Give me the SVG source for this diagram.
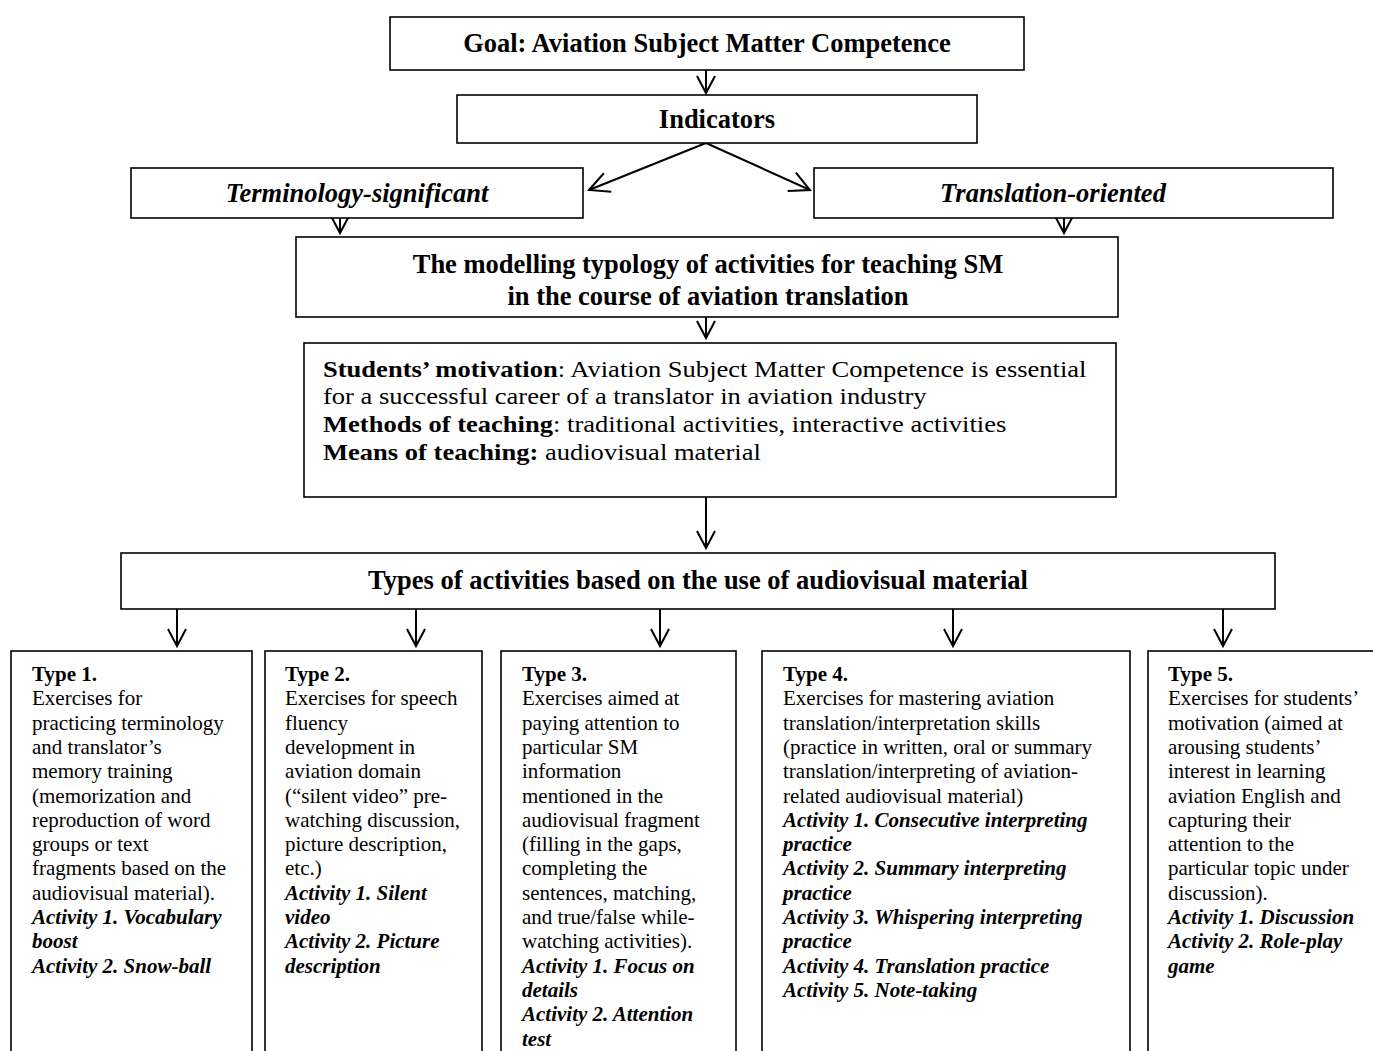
<svg xmlns="http://www.w3.org/2000/svg" width="1373" height="1051" viewBox="0 0 1373 1051">
<style>
.box{fill:#fff;stroke:#000;stroke-width:1.6}
.h{font-family:"Liberation Serif","Times New Roman",serif;font-weight:bold;font-size:26.5px;fill:#000}
.hi{font-family:"Liberation Serif","Times New Roman",serif;font-weight:bold;font-style:italic;font-size:26.5px;fill:#000}
.m{font-family:"Liberation Serif","Times New Roman",serif;font-size:23.5px;fill:#000}
.t{font-family:"Liberation Serif","Times New Roman",serif;font-size:21px;fill:#000}
.b{font-weight:bold}
.a{font-weight:bold;font-style:italic}
.c{fill:none;stroke:#000;stroke-width:2}
</style>
<defs>
<marker id="v" viewBox="-22 -12 24 24" refX="0" refY="0" markerWidth="24" markerHeight="24" markerUnits="userSpaceOnUse" orient="auto" overflow="visible">
<path d="M -17 -9 L 0 0 L -17 9" fill="none" stroke="#000" stroke-width="2"/>
</marker>
<marker id="vd" viewBox="-24 -14 26 28" refX="0" refY="0" markerWidth="26" markerHeight="28" markerUnits="userSpaceOnUse" orient="auto" overflow="visible">
<path d="M -20 -10 L 0 0 L -20 10" fill="none" stroke="#000" stroke-width="2"/>
</marker>
</defs>
<rect width="1373" height="1051" fill="#fff"/>

<g id="connectors">
<line class="c" x1="706" y1="70" x2="706" y2="93" marker-end="url(#v)"/>
<line class="c" x1="706" y1="143" x2="589" y2="190" marker-end="url(#vd)"/>
<line class="c" x1="706" y1="143" x2="810" y2="190" marker-end="url(#vd)"/>
<line class="c" x1="340" y1="218" x2="340" y2="233" marker-end="url(#v)"/>
<line class="c" x1="1064" y1="218" x2="1064" y2="233" marker-end="url(#v)"/>
<line class="c" x1="706" y1="317" x2="706" y2="338" marker-end="url(#v)"/>
<line class="c" x1="706" y1="497" x2="706" y2="548" marker-end="url(#v)"/>
<line class="c" x1="177" y1="609" x2="177" y2="646" marker-end="url(#v)"/>
<line class="c" x1="416" y1="609" x2="416" y2="646" marker-end="url(#v)"/>
<line class="c" x1="660" y1="609" x2="660" y2="646" marker-end="url(#v)"/>
<line class="c" x1="953" y1="609" x2="953" y2="646" marker-end="url(#v)"/>
<line class="c" x1="1223" y1="609" x2="1223" y2="646" marker-end="url(#v)"/>
</g>

<g id="goal">
<rect class="box" x="390" y="17" width="634" height="53"/>
<text class="h" x="707" y="52" text-anchor="middle">Goal: Aviation Subject Matter Competence</text>
</g>

<g id="indicators">
<rect class="box" x="457" y="95" width="520" height="48"/>
<text class="h" x="717" y="128" text-anchor="middle">Indicators</text>
</g>

<g id="terminology">
<rect class="box" x="131" y="168" width="452" height="50"/>
<text class="hi" x="357" y="202" text-anchor="middle">Terminology-significant</text>
</g>

<g id="translation">
<rect class="box" x="814" y="168" width="519" height="50"/>
<text class="hi" x="1053" y="202" text-anchor="middle">Translation-oriented</text>
</g>

<g id="modelling">
<rect class="box" x="296" y="237" width="822" height="80"/>
<text class="h" x="708" y="273" text-anchor="middle">The modelling typology of activities for teaching SM</text>
<text class="h" x="708" y="305" text-anchor="middle">in the course of aviation translation</text>
</g>

<g id="students">
<rect class="box" x="304" y="343" width="812" height="154"/>
<g transform="translate(323,0) scale(1.13,1)">
<text class="m" x="0" y="377"><tspan class="b">Students’ motivation</tspan>: Aviation Subject Matter Competence is essential</text>
<text class="m" x="0" y="404">for a successful career of a translator in aviation industry</text>
<text class="m" x="0" y="432"><tspan class="b">Methods of teaching</tspan>: traditional activities, interactive activities</text>
<text class="m" x="0" y="460"><tspan class="b">Means of teaching:</tspan> audiovisual material</text>
</g>
</g>

<g id="types">
<rect class="box" x="121" y="553" width="1154" height="56"/>
<text class="h" x="698" y="589" text-anchor="middle">Types of activities based on the use of audiovisual material</text>
</g>

<g id="type1">
<rect class="box" x="11" y="651" width="241" height="420"/>
<text class="t" y="681">
<tspan x="32" class="b">Type 1.</tspan>
<tspan x="32" dy="24.3">Exercises for</tspan>
<tspan x="32" dy="24.3">practicing terminology</tspan>
<tspan x="32" dy="24.3">and translator’s</tspan>
<tspan x="32" dy="24.3">memory training</tspan>
<tspan x="32" dy="24.3">(memorization and</tspan>
<tspan x="32" dy="24.3">reproduction of word</tspan>
<tspan x="32" dy="24.3">groups or text</tspan>
<tspan x="32" dy="24.3">fragments based on the</tspan>
<tspan x="32" dy="24.3">audiovisual material).</tspan>
<tspan x="32" dy="24.3" class="a">Activity 1. Vocabulary</tspan>
<tspan x="32" dy="24.3" class="a">boost</tspan>
<tspan x="32" dy="24.3" class="a">Activity 2. Snow-ball</tspan>
</text>
</g>

<g id="type2">
<rect class="box" x="265" y="651" width="217" height="420"/>
<text class="t" y="681">
<tspan x="285" class="b">Type 2.</tspan>
<tspan x="285" dy="24.3">Exercises for speech</tspan>
<tspan x="285" dy="24.3">fluency</tspan>
<tspan x="285" dy="24.3">development in</tspan>
<tspan x="285" dy="24.3">aviation domain</tspan>
<tspan x="285" dy="24.3">(“silent video” pre-</tspan>
<tspan x="285" dy="24.3">watching discussion,</tspan>
<tspan x="285" dy="24.3">picture description,</tspan>
<tspan x="285" dy="24.3">etc.)</tspan>
<tspan x="285" dy="24.3" class="a">Activity 1. Silent</tspan>
<tspan x="285" dy="24.3" class="a">video</tspan>
<tspan x="285" dy="24.3" class="a">Activity 2. Picture</tspan>
<tspan x="285" dy="24.3" class="a">description</tspan>
</text>
</g>

<g id="type3">
<rect class="box" x="501" y="651" width="235" height="420"/>
<text class="t" y="681">
<tspan x="522" class="b">Type 3.</tspan>
<tspan x="522" dy="24.3">Exercises aimed at</tspan>
<tspan x="522" dy="24.3">paying attention to</tspan>
<tspan x="522" dy="24.3">particular SM</tspan>
<tspan x="522" dy="24.3">information</tspan>
<tspan x="522" dy="24.3">mentioned in the</tspan>
<tspan x="522" dy="24.3">audiovisual fragment</tspan>
<tspan x="522" dy="24.3">(filling in the gaps,</tspan>
<tspan x="522" dy="24.3">completing the</tspan>
<tspan x="522" dy="24.3">sentences, matching,</tspan>
<tspan x="522" dy="24.3">and true/false while-</tspan>
<tspan x="522" dy="24.3">watching activities).</tspan>
<tspan x="522" dy="24.3" class="a">Activity 1. Focus on</tspan>
<tspan x="522" dy="24.3" class="a">details</tspan>
<tspan x="522" dy="24.3" class="a">Activity 2. Attention</tspan>
<tspan x="522" dy="24.3" class="a">test</tspan>
</text>
</g>

<g id="type4">
<rect class="box" x="762" y="651" width="368" height="420"/>
<text class="t" y="681">
<tspan x="783" class="b">Type 4.</tspan>
<tspan x="783" dy="24.3">Exercises for mastering aviation</tspan>
<tspan x="783" dy="24.3">translation/interpretation skills</tspan>
<tspan x="783" dy="24.3">(practice in written, oral or summary</tspan>
<tspan x="783" dy="24.3">translation/interpreting of aviation-</tspan>
<tspan x="783" dy="24.3">related audiovisual material)</tspan>
<tspan x="783" dy="24.3" class="a">Activity 1. Consecutive interpreting</tspan>
<tspan x="783" dy="24.3" class="a">practice</tspan>
<tspan x="783" dy="24.3" class="a">Activity 2. Summary interpreting</tspan>
<tspan x="783" dy="24.3" class="a">practice</tspan>
<tspan x="783" dy="24.3" class="a">Activity 3. Whispering interpreting</tspan>
<tspan x="783" dy="24.3" class="a">practice</tspan>
<tspan x="783" dy="24.3" class="a">Activity 4. Translation practice</tspan>
<tspan x="783" dy="24.3" class="a">Activity 5. Note-taking</tspan>
</text>
</g>

<g id="type5">
<rect class="box" x="1148" y="651" width="240" height="420"/>
<text class="t" y="681">
<tspan x="1168" class="b">Type 5.</tspan>
<tspan x="1168" dy="24.3">Exercises for students’</tspan>
<tspan x="1168" dy="24.3">motivation (aimed at</tspan>
<tspan x="1168" dy="24.3">arousing students’</tspan>
<tspan x="1168" dy="24.3">interest in learning</tspan>
<tspan x="1168" dy="24.3">aviation English and</tspan>
<tspan x="1168" dy="24.3">capturing their</tspan>
<tspan x="1168" dy="24.3">attention to the</tspan>
<tspan x="1168" dy="24.3">particular topic under</tspan>
<tspan x="1168" dy="24.3">discussion).</tspan>
<tspan x="1168" dy="24.3" class="a">Activity 1. Discussion</tspan>
<tspan x="1168" dy="24.3" class="a">Activity 2. Role-play</tspan>
<tspan x="1168" dy="24.3" class="a">game</tspan>
</text>
</g>
</svg>
